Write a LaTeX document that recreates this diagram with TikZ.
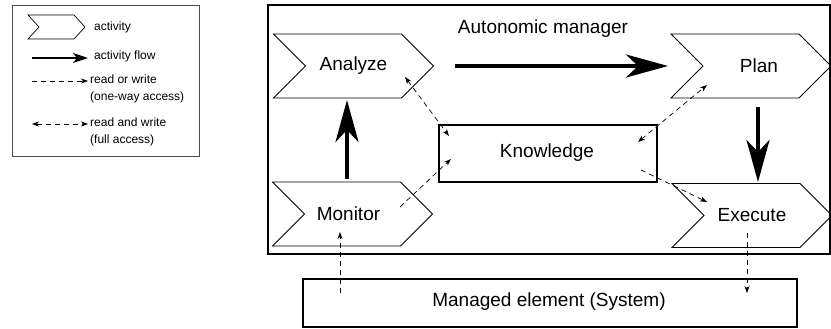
\documentclass[tikz,border=0pt]{standalone}
\usepackage{fontspec}
\setmainfont{Liberation Sans}
\usetikzlibrary{arrows.meta,shapes.symbols,calc}

\begin{document}
\begin{tikzpicture}[x=1pt,y=-1pt,
  activity/.style={draw, line width=0.8pt, shape=signal, signal from=west,
    signal to=east, signal pointer angle=90, minimum width=160pt,
    minimum height=64pt, inner sep=0pt, font=\fontsize{19}{22}\selectfont},
  smallact/.style={draw, line width=0.7pt, shape=signal, signal from=west,
    signal to=east, signal pointer angle=95, minimum width=57pt,
    minimum height=24pt, inner sep=0pt},
  frame/.style={draw, line width=2pt},
  label/.style={font=\fontsize{19}{22}\selectfont},
  legtext/.style={font=\fontsize{12}{17}\selectfont, anchor=west, align=left, inner sep=0pt},
  flow/.style={line width=4pt, -{Stealth[length=42pt, width=23pt, inset=12pt]}},
  legflow/.style={line width=2.5pt, -{Stealth[length=15pt, width=10pt, inset=4pt]}},
  access/.style={line width=0.7pt, dash pattern=on 5pt off 4pt},
  oneway/.style={access, -{Stealth[length=7pt, width=5pt, inset=2pt]}},
  twoway/.style={access, {Stealth[length=7pt, width=5pt, inset=2pt]}-{Stealth[length=7pt, width=5pt, inset=2pt]}}
]
\useasboundingbox (0,0) rectangle (831,329);

% legend
\node[draw, line width=1pt, draw=black!70, minimum width=187pt, minimum height=151pt,
      anchor=north west, inner sep=0pt] (legend) at (12,5) {};
\node[smallact] (legact) at (56.5,27) {};
\node[legtext] (legacttext) at (94,27) {activity};
\coordinate (lf1) at (32,58);
\coordinate (lf2) at (88,58);
\draw[legflow] (lf1) -- (lf2);
\node[legtext] (legflowtext) at (94,56) {activity flow};
\coordinate (lo1) at (32,81);
\coordinate (lo2) at (88,81);
\draw[oneway] (lo1) -- (lo2);
\node[legtext] (legonetext) at (90,88.5) {read or write\\(one-way access)};
\coordinate (lt1) at (32,124);
\coordinate (lt2) at (88,124);
\draw[twoway] (lt1) -- (lt2);
\node[legtext] (legtwotext) at (90,131.5) {read and write\\(full access)};

% autonomic manager
\node[frame, minimum width=562pt, minimum height=249pt, anchor=north west, inner sep=0pt]
  (manager) at (267,4) {};
\node[label] (managertitle) at (543,29) {Autonomic manager};

\node[activity] (analyze) at (353.5,66) {Analyze};
\node[activity, text depth=0pt] (plan) at (751,66) {\hspace*{16pt}Plan};
\node[activity] (monitor) at (352.5,214) {Monitor\hspace*{8pt}};
\node[activity] (execute) at (752,215.5) {Execute};

\node[frame, minimum width=218pt, minimum height=57pt, anchor=north west, inner sep=0pt,
      label] (knowledge) at (438,124) {};
\node[label] (knowledgetext) at (547,152.5) {Knowledge};

% managed element
\node[frame, minimum width=494pt, minimum height=48pt, anchor=north west, inner sep=0pt]
  (managed) at (302,278) {};
\node[label] (managedtext) at (549,302) {Managed element (System)};

% activity flow
\coordinate (ap1) at (455,66);
\coordinate (ap2) at (668,66);
\draw[flow] (ap1) -- (ap2);
\coordinate (ma1) at (347,179);
\coordinate (ma2) at (347,100);
\draw[flow] (ma1) -- (ma2);
\coordinate (pe1) at (758,107);
\coordinate (pe2) at (758,182);
\draw[flow] (pe1) -- (pe2);

% knowledge access
\coordinate (ak1) at (405,77);
\coordinate (ak2) at (449,136);
\draw[twoway] (ak1) -- (ak2);
\coordinate (mk1) at (400,207);
\coordinate (mk2) at (451,159);
\draw[oneway] (mk1) -- (mk2);
\coordinate (pk1) at (638,142);
\coordinate (pk2) at (707,85);
\draw[twoway] (pk1) -- (pk2);
\coordinate (ke1) at (641,170);
\coordinate (ke2) at (707,202);
\draw[oneway] (ke1) -- (ke2);

% sensing and effecting
\coordinate (sm1) at (340,293);
\coordinate (sm2) at (340,232);
\draw[oneway] (sm1) -- (sm2);
\coordinate (em1) at (747,233);
\coordinate (em2) at (747,293);
\draw[oneway] (em1) -- (em2);
\end{tikzpicture}
\end{document}
